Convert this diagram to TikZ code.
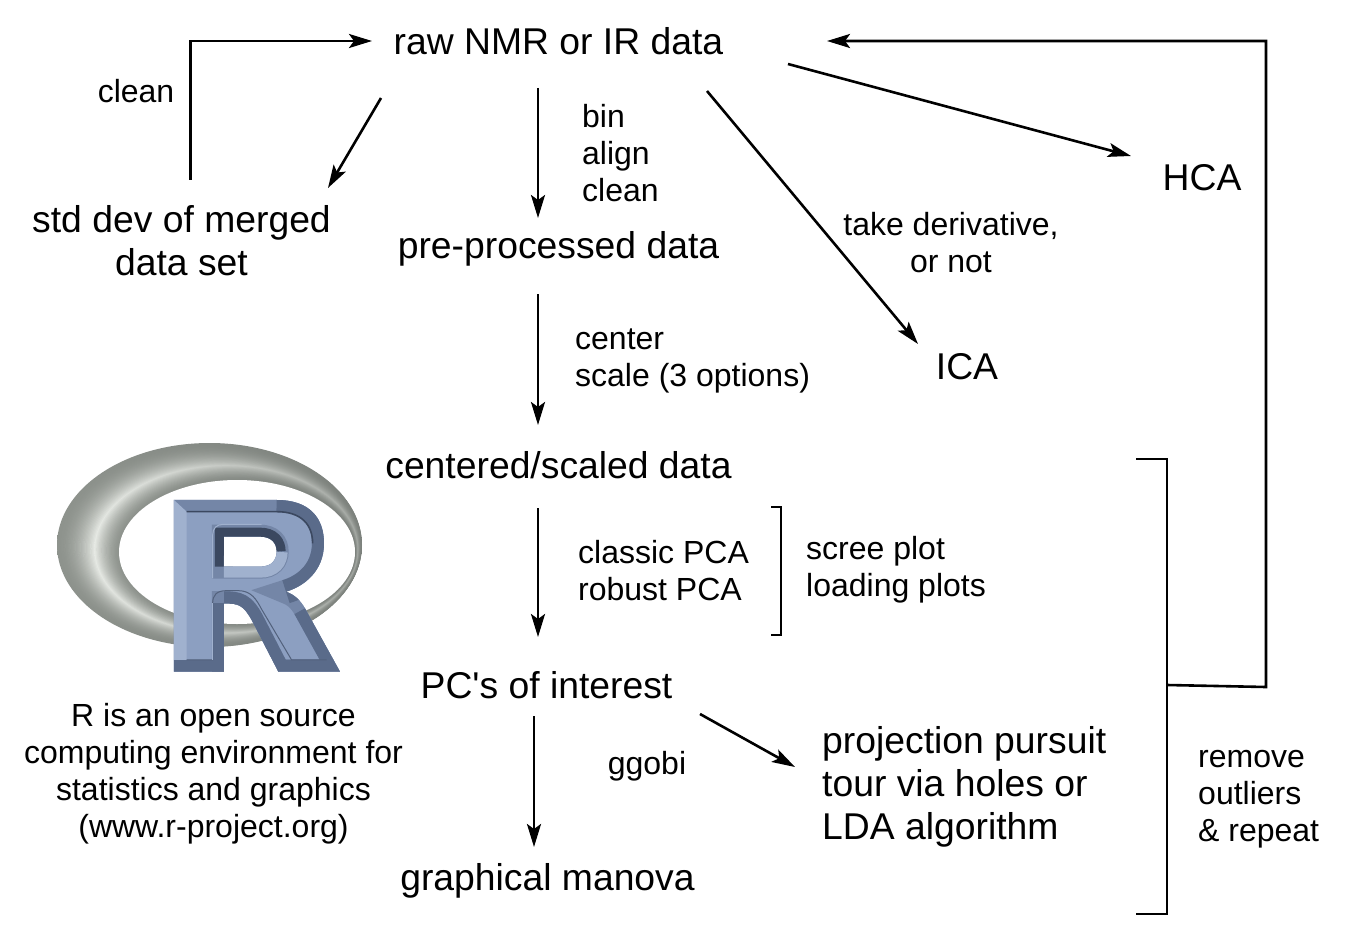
\documentclass[tikz,border=0pt]{standalone}
\usepackage{fontspec}
\setmainfont{Liberation Sans}
\usetikzlibrary{arrows.meta}
\definecolor{ringA}{HTML}{8E938D}
\definecolor{ringB}{HTML}{E6E9E4}
\definecolor{ringD}{HTML}{7C817C}
\definecolor{rface}{HTML}{8C9FC1}
\definecolor{redge}{HTML}{7486A7}
\definecolor{rlight}{HTML}{A0B1CE}
\definecolor{rmid}{HTML}{5A6B8A}
\definecolor{rdark}{HTML}{3B4860}
\tikzset{
  big/.style={font=\fontsize{37.3}{43}\selectfont,align=center,inner sep=0pt},
  bigl/.style={font=\fontsize{37.3}{43}\selectfont,align=left,inner sep=0pt},
  small/.style={font=\fontsize{32}{37}\selectfont,align=center,inner sep=0pt},
  smalll/.style={font=\fontsize{32}{37}\selectfont,align=left,inner sep=0pt,anchor=west},
  arr/.style={line width=2.6pt,-{Stealth[length=23pt,width=14pt,inset=5pt]}},
  ln/.style={line width=2.6pt,line cap=rect,line join=miter},
}
\newcommand{\Rshape}{(432,210) -- (740,210) .. controls (840,210) and (882,265) .. (882,340)
  .. controls (882,425) and (820,470) .. (768,485) .. controls (795,495) and (810,510) .. (825,535)
  -- (930,725) -- (745,725) -- (665,570) .. controls (640,525) and (625,520) .. (582,520) -- (582,725) -- (432,725) -- cycle
  (582,320) -- (582,410) -- (690,410) .. controls (725,410) and (740,390) .. (740,365) .. controls (740,340) and (725,320) .. (690,320) -- cycle}
\begin{document}
\begin{tikzpicture}[x=1pt,y=-1pt]
\useasboundingbox (0,0) rectangle (1346,928);
% R logo ring
\foreach \i in {0,2,...,100}{
  \pgfmathsetmacro{\t}{\i/100}
  \pgfmathsetmacro{\cx}{209.5+\t*(237-209.5)}
  \pgfmathsetmacro{\cy}{545+\t*(552-545)}
  \pgfmathsetmacro{\rx}{152.5-\t*(152.5-118)}
  \pgfmathsetmacro{\ry}{102-\t*(102-72)}
  \pgfmathsetmacro{\mixv}{\t<0.6 ? 100*(\t/0.6)^2 : 100*((1-\t)/0.4)^1.5}
  \pgfmathsetmacro{\mixr}{0.4*\mixv}
  \shade[left color=ringB!\mixv!ringA,right color=ringB!\mixr!ringD] (\cx,\cy) ellipse [x radius=\rx pt,y radius=\ry pt];
}
\fill[white] (237,552) ellipse [x radius=118pt,y radius=72pt];
% R logo letter
\begin{scope}[shift={(30,430)},x=0.3333pt,y=-0.3333pt]
  \fill[rface,even odd rule] \Rshape;
  \begin{scope}[even odd rule]
    \clip \Rshape;
    \draw[redge,line width=24pt,line join=miter] \Rshape;
    \fill[rlight] (432,210) -- (470,245) -- (470,690) -- (432,725) -- cycle;
    \draw[rmid,line width=24pt] (740,210) .. controls (840,210) and (882,265) .. (882,340)
       .. controls (882,425) and (820,470) .. (768,485);
    \draw[rmid,line width=24pt,line join=miter] (825,535) -- (930,725) -- (745,725);
    \draw[rmid,line width=24pt] (582,520) -- (582,725);
    \draw[rmid,line width=24pt] (432,725) -- (582,725);
    \draw[rmid,line width=24pt] (745,725) -- (665,570) .. controls (640,525) and (625,520) .. (582,520);
    \draw[rdark,line width=18pt,line join=miter] (582,410) -- (582,320) -- (690,320) .. controls (725,320) and (740,340) .. (740,365);
    \draw[rlight,line width=22pt] (582,410) -- (690,410) .. controls (725,410) and (740,390) .. (740,365);
    \draw[rdark,line width=1.6pt,line join=round] (470,245) -- (740,245) .. controls (815,245) and (848,285) .. (848,340);
    \draw[rlight,line width=1pt,line join=round] (548,445) -- (548,315) .. controls (548,295) and (560,283) .. (580,283) -- (695,283);
    \draw[rdark!60!redge,line width=1pt,line join=round] (470,690) -- (548,690) -- (548,520) .. controls (548,495) and (560,482) .. (590,482) -- (625,482) .. controls (665,482) and (680,510) .. (695,538) -- (785,690) -- (890,690);
    \draw[rlight,line width=1pt] (548,520) -- (548,690);
  \end{scope}
\end{scope}
% text
\node[big] (raw) at (558.5,41) {raw NMR or IR data};
\node[small] (cleantop) at (136,91) {clean};
\node[big] (std) at (181.5,240.5) {std dev of merged\\data set};
\node[smalll] (binlab) at (582,153) {bin\\align\\clean};
\node[big] (pre) at (558.5,249) {pre-processed data};
\node[small] (deriv) at (951,243) {take derivative,\\or not};
\node[big] (hca) at (1202,178) {HCA};
\node[big] (ica) at (967,367) {ICA};
\node[smalll] (censcale) at (575,361) {center\\scale (3 options)};
\node[big] (cen) at (558.5,465) {centered/scaled data};
\node[smalll] (pcalab) at (578,571) {classic PCA\\robust PCA};
\node[smalll] (plots) at (806,570) {scree plot\\loading plots};
\node[big] (pcs) at (546.5,685) {PC\textquotesingle s of interest};
\node[small] (ggobi) at (647,766) {ggobi};
\node[bigl,anchor=west] (proj) at (822,787) {projection pursuit\\tour via holes or\\LDA algorithm};
\node[big] (manova) at (547.5,881) {graphical manova};
\node[smalll] (remove) at (1198,799) {remove\\outliers\\\& repeat};
\node[small] (rnote) at (213.5,774) {R is an open source\\computing environment for\\statistics and graphics\\(www.r-project.org)};
% bracket reference points
\coordinate (bigT) at (1137,459);
\coordinate (bigTR) at (1167,459);
\coordinate (bigBR) at (1167,914);
\coordinate (bigB) at (1137,914);
\coordinate (tap) at (1167,685);
\coordinate (corner) at (1266,687);
\coordinate (top) at (1266,41);
\coordinate (smT) at (772,507);
\coordinate (smTR) at (781,507);
\coordinate (smBR) at (781,635);
\coordinate (smB) at (772,635);
% connectors
\draw[arr,line join=miter] ([xshift=-368pt,yshift=-139pt]raw.center) -- ([xshift=-368pt]raw.center) -- ([xshift=-186.5pt]raw.center);
\draw[arr] ([xshift=-177.5pt,yshift=-57pt]raw.center) -- ([xshift=146.5pt,yshift=52.5pt]std.center);
\draw[arr] ([xshift=-20.5pt,yshift=-47pt]raw.center) -- ([xshift=-20.5pt,yshift=31pt]pre.center);
\draw[arr] ([xshift=-20.5pt,yshift=-45pt]pre.center) -- ([xshift=-20.5pt,yshift=40pt]cen.center);
\draw[arr] ([xshift=-20.5pt,yshift=-43pt]cen.center) -- ([xshift=-8.5pt,yshift=48pt]pcs.center);
\draw[arr] ([xshift=-12.5pt,yshift=-31pt]pcs.center) -- ([xshift=-13.5pt,yshift=34pt]manova.center);
\draw[arr] ([xshift=153.5pt,yshift=-29pt]pcs.center) -- ([xshift=-27pt,yshift=20pt]proj.west);
\draw[arr] ([xshift=229.5pt,yshift=-23pt]raw.center) -- ([xshift=-71pt,yshift=22pt]hca.center);
\draw[arr] ([xshift=148.5pt,yshift=-50pt]raw.center) -- ([xshift=-49pt,yshift=23pt]ica.center);
\draw[ln] (bigT) -- (bigTR) -- (bigBR) -- (bigB);
\draw[ln] (smT) -- (smTR) -- (smBR) -- (smB);
\draw[arr,line join=miter] (tap) -- (corner) -- (top) -- ([xshift=268.5pt]raw.center);
\end{tikzpicture}
\end{document}
